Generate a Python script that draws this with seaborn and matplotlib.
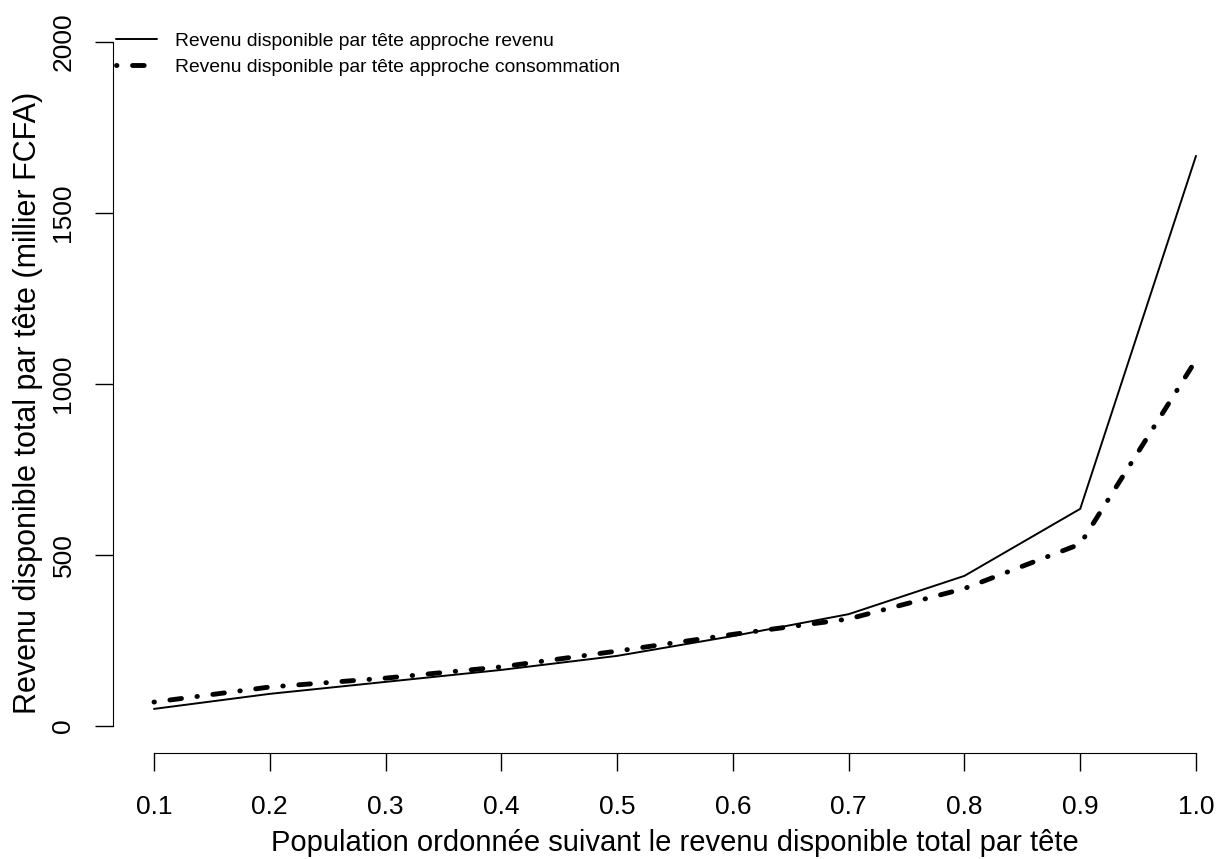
import pandas as pd
import numpy as np
import matplotlib
matplotlib.use("Agg")
import matplotlib.pyplot as plt
import seaborn as sns

# valeurs (milliers FCFA)
population = [0.1, 0.2, 0.3, 0.4, 0.5, 0.6, 0.7, 0.8, 0.9, 1.0]
revenu = [50, 94, 129, 164, 205, 263, 327, 439, 635, 1667]
consommation = [70, 114, 140, 173, 219, 268, 313, 402, 532, 1070]

x_ticks = [0.1, 0.2, 0.3, 0.4, 0.5, 0.6, 0.7, 0.8, 0.9, 1.0]
x_labels = ["0.1", "0.2", "0.3", "0.4", "0.5", "0.6", "0.7", "0.8", "0.9", "1.0"]
y_ticks = [0, 500, 1000, 1500, 2000]
y_labels = ["0", "500", "1000", "1500", "2000"]

lab_rev = "Revenu disponible par tête approche revenu"
lab_cons = "Revenu disponible par tête approche consommation"

df = pd.DataFrame({"pop": population, "rev": revenu, "cons": consommation})

sns.set_style("ticks")
plt.rcParams['font.family'] = ['Liberation Sans', 'DejaVu Sans']
plt.rcParams['text.color'] = 'black'
plt.rcParams['axes.labelcolor'] = 'black'

W, H = 1227, 859
fig = plt.figure(figsize=(W / 100, H / 100), dpi=100)
# zone de tracé en pixels : gauche 113, droite 1227, haut 15, bas 753
ax = fig.add_axes([113 / W, 1 - 753 / H, (W - 113) / W, (753 - 15) / H])

sns.lineplot(data=df, x="pop", y="rev", color="black", linewidth=1.4, label=lab_rev, ax=ax)
sns.lineplot(data=df, x="pop", y="cons", color="black", linewidth=3.5,
             linestyle=(0, (0.1, 3.2, 2.4, 3.2)), dash_capstyle="round",
             label=lab_cons, ax=ax)

# échelles
px_per_x = (1196 - 154) / 0.9
ax.set_xlim(0.1 - (154 - 113) / px_per_x, 0.1 + (W - 154) / px_per_x)
px_per_y = (726 - 42) / 2000
ax.set_ylim(-(753 - 726) / px_per_y, (726 - 15) / px_per_y)

ax.set_xticks(x_ticks)
ax.set_xticklabels(x_labels)
ax.set_yticks(y_ticks)
ax.set_yticklabels(y_labels, rotation=90, va="center")

ax.tick_params(axis="both", length=13, width=1, color="black", labelsize=19, labelcolor="black")
ax.tick_params(axis="x", pad=17.5)
ax.tick_params(axis="y", pad=14)

for s in ["top", "right"]:
    ax.spines[s].set_visible(False)
ax.spines["left"].set_bounds(0, 2000)
ax.spines["bottom"].set_bounds(0.1, 1.0)
ax.spines["left"].set_color("black")
ax.spines["bottom"].set_color("black")

ax.set_xlabel("Population ordonnée suivant le revenu disponible total par tête", fontsize=21)
ax.set_ylabel("Revenu disponible total par tête (millier FCFA)", fontsize=22)
ax.xaxis.set_label_coords((675 - 113) / (W - 113), -(843 - 753) / (753 - 15))
ax.yaxis.set_label_coords((28 - 113) / (W - 113), (753 - 403) / (753 - 15))
ax.xaxis.label.set_va("center")
ax.yaxis.label.set_va("center")

ax.legend(loc="upper left", bbox_to_anchor=(116 / W, 1 - 32 / H), bbox_transform=fig.transFigure,
          frameon=False, fontsize=13.9, handlelength=2.1, handletextpad=0.95,
          labelspacing=0.45, borderpad=0, borderaxespad=0)

plt.savefig("out.png", dpi=100)
